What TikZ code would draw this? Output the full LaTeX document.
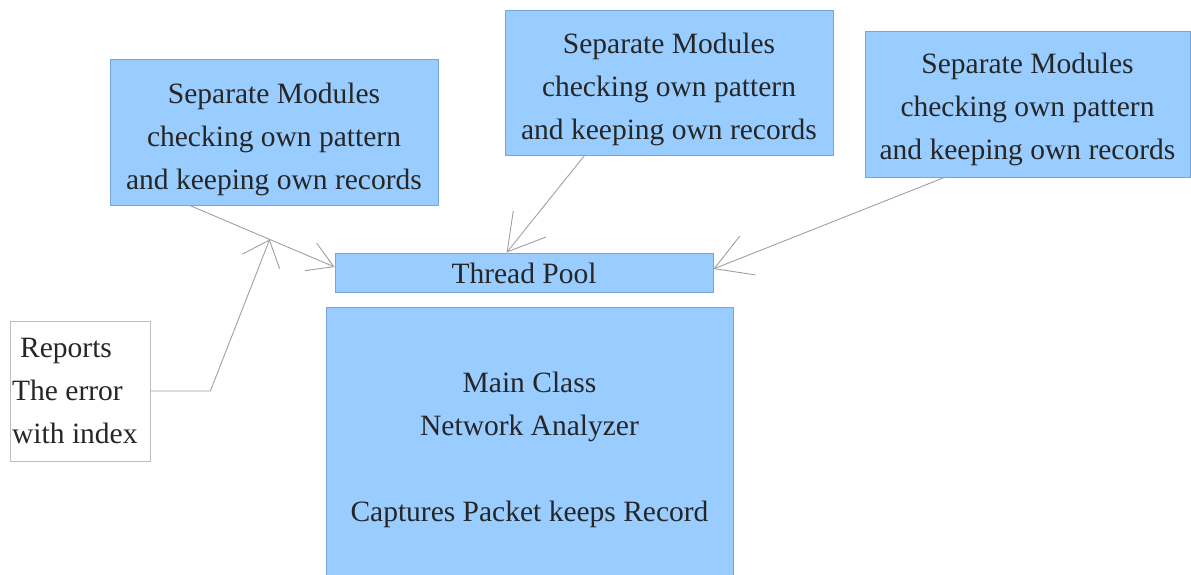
\documentclass[tikz,border=0pt]{standalone}
\usepackage{fontspec}
\setmainfont{Liberation Serif}
\usetikzlibrary{arrows.meta}
\definecolor{boxfill}{RGB}{153,204,255}
\definecolor{boxline}{RGB}{120,165,215}
\definecolor{wirecol}{RGB}{160,160,160}
\definecolor{notecol}{RGB}{190,190,190}
\tikzset{
  box/.style={draw=boxline, fill=boxfill, line width=0.8pt, inner sep=0pt, rectangle},
  notebox/.style={draw=notecol, fill=white, line width=0.8pt, inner sep=0pt, rectangle},
  txt/.style={font=\fontsize{29.5}{43}\selectfont, align=center, inner sep=0pt, text=black!85},
  wire/.style={draw=wirecol, line width=0.9pt},
  bigtip/.style={-{Straight Barb[length=36pt,width=42pt]}},
  smalltip/.style={-{Straight Barb[length=25pt,width=30pt]}},
  widetip/.style={-{Straight Barb[length=23pt,width=40pt]}}
}
\begin{document}
\begin{tikzpicture}[x=1pt,y=-1pt]
\useasboundingbox (0,0) rectangle (1191,575);

% module boxes
\node[box, minimum width=328pt, minimum height=146pt] (m1) at (274,132) {};
\node[txt] (m1t) at (274,139) {Separate Modules\\checking own pattern\\and keeping own records};
\node[box, minimum width=328pt, minimum height=145pt] (m2) at (669,82.5) {};
\node[txt] (m2t) at (669,89) {Separate Modules\\checking own pattern\\and keeping own records};
\node[box, minimum width=325pt, minimum height=146pt] (m3) at (1027.5,104) {};
\node[txt] (m3t) at (1027.5,109) {Separate Modules\\checking own pattern\\and keeping own records};

% thread pool
\node[box, minimum width=378pt, minimum height=39pt] (pool) at (524,272.5) {};
\node[txt] (poolt) at (524,273) {Thread Pool};

% main class
\node[box, minimum width=407pt, minimum height=283pt] (main) at (529.5,448.5) {};
\node[txt] (maint) at (529.5,450) {Main Class\\Network Analyzer\\[43pt]Captures Packet keeps Record};

% error report note
\node[notebox, minimum width=140pt, minimum height=140pt] (rep) at (80,391) {};
\node[txt, align=left, anchor=west] (rept) at (12,390.5) {\hspace{8pt}Reports\\The error\\with index};

% connectors
\draw[wire, smalltip] ([xshift=80pt]m1.south west) -- coordinate[pos=0.552] (join) ([yshift=5.5pt]pool.west);
\draw[wire, bigtip] ([xshift=80pt]m2.south west) -- ([xshift=172pt]pool.north west);
\draw[wire, bigtip] ([xshift=80pt]m3.south west) -- ([yshift=3.5pt]pool.east);
\draw[wire, widetip] (rep.east) -- ++(60,0) -- (join);
\end{tikzpicture}
\end{document}
